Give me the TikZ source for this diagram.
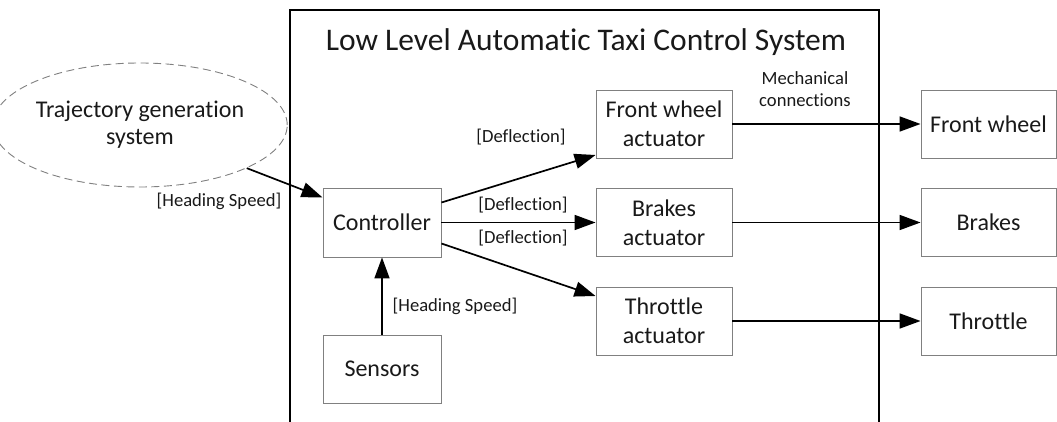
\documentclass[tikz,border=0pt]{standalone}
\usepackage{fontspec}
\setmainfont{Carlito}[Ligatures=NoCommon]
\usetikzlibrary{shapes.geometric,arrows.meta,calc}

\begin{document}
\begin{tikzpicture}[x=1pt,y=-1pt,
  every node/.style={text=black!90},
  blockbox/.style={draw=black!50, line width=0.9pt, minimum width=#1, minimum height=68pt,
    inner sep=0pt, align=center, font=\fontsize{24}{29}\selectfont},
  blockbox/.default=136pt,
  flow/.style={line width=1.7pt, -{Triangle[length=21pt,width=15pt]}},
  tag/.style={font=\fontsize{18.6}{22}\selectfont, inner sep=0pt, align=center},
  frame/.style={line width=1.6pt}
]
\useasboundingbox (0,0) rectangle (1057,422);

% system boundary, open at the bottom
\draw[frame] (290,423) -- (290,10) -- (879,10) -- (879,423);
\node[font=\fontsize{31.5}{36}\selectfont, inner sep=0pt] (title) at (586,42)
  {Low Level Automatic Taxi Control System};

% external trajectory source
\node[ellipse, draw=black!50, dash pattern=on 8pt off 4.5pt, line width=0.9pt,
  minimum width=266pt, minimum height=124pt, inner sep=0pt, align=center,
  font=\fontsize{24}{27}\selectfont] (traj) at (140,125)
  {Trajectory generation\\system};

% controller and sensing
\node[blockbox=118pt, minimum height=69pt] (ctrl) at (382,222.5) {Controller};
\node[blockbox=118pt] (sens) at (382,369) {Sensors};

% actuators
\node[blockbox] (fwa) at (664,124) {Front wheel\\actuator};
\node[blockbox] (bra) at (664,222.5) {Brakes\\actuator};
\node[blockbox] (tha) at (664,321) {Throttle\\actuator};

% physical components
\node[blockbox=135pt] (fw) at (988.5,124) {Front wheel};
\node[blockbox=135pt] (br) at (988.5,222.5) {Brakes};
\node[blockbox=135pt] (th) at (988.5,321) {Throttle};

% signal flow
\draw[flow] (traj.-22) -- ([yshift=25pt]ctrl.west);
\draw[flow] (sens.north) -- (ctrl.south);
\draw[flow] ([yshift=20pt]ctrl.east) -- ([yshift=-31pt]fwa.west);
\draw[flow] (ctrl.east) -- (bra.west);
\draw[flow] ([yshift=-21pt]ctrl.east) -- ([yshift=25pt]tha.west);

% mechanical links
\draw[flow] (fwa.east) -- (fw.west);
\draw[flow] (bra.east) -- (br.west);
\draw[flow] (tha.east) -- (th.west);

% labels
\node[tag] (lhs) at (219,201) {[Heading Speed]};
\node[tag] (lsens) at (455,306) {[Heading Speed]};
\node[tag] (ldef1) at (521,137) {[Deflection]};
\node[tag] (ldef2) at (523,205) {[Deflection]};
\node[tag] (ldef3) at (523,238) {[Deflection]};
\node[tag] (lmech) at (805,89) {Mechanical\\connections};
\end{tikzpicture}
\end{document}
